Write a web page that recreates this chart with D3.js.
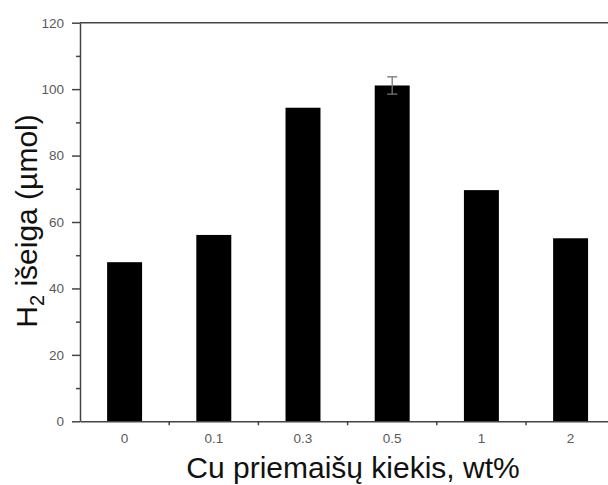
<!DOCTYPE html>
<html>
<head>
<meta charset="utf-8">
<script src="https://cdn.jsdelivr.net/npm/d3@7"></script>
<style>
  body { margin: 0; background: #fff; }
  svg { display: block; }
  text { font-family: "Liberation Sans", Arial, sans-serif; }
</style>
</head>
<body>
<div id="app"></div>
<script>
// data
const categories = ["0", "0.1", "0.3", "0.5", "1", "2"];
const yields = [47.9, 56.1, 94.4, 101.1, 69.6, 55.1];
const errors = [0, 0, 0, 2.6, 0, 0];
const yMajorTicks = [0, 20, 40, 60, 80, 100, 120];
const yMinorTicks = [10, 30, 50, 70, 90, 110];

const W = 608, H = 485;
const plot = {left: 80, right: 615.2, top: 22.7, bottom: 421.3};

const svg = d3.select("#app").append("svg")
  .attr("width", W)
  .attr("height", H);

// scales
const x = d3.scaleBand()
  .domain(categories)
  .range([plot.left, plot.right])
  .paddingInner(0.608)
  .paddingOuter(0.304);

const y = d3.scaleLinear()
  .domain([0, 120])
  .range([plot.bottom, plot.top]);

// bars
svg.selectAll(".bar")
  .data(categories)
  .enter()
  .append("rect")
  .attr("class", "bar")
  .attr("x", d => x(d))
  .attr("y", (d, i) => y(yields[i]))
  .attr("width", x.bandwidth())
  .attr("height", (d, i) => y(0) - y(yields[i]))
  .style("fill", "#000");

// error bars
const errG = svg.append("g")
  .attr("stroke", "#777")
  .attr("stroke-width", 1.3);
categories.forEach((c, i) => {
  if (!errors[i]) return;
  const cx = x(c) + x.bandwidth() / 2;
  errG.append("line").attr("x1", cx).attr("x2", cx)
    .attr("y1", y(yields[i] + errors[i])).attr("y2", y(yields[i] - errors[i]));
  [yields[i] + errors[i], yields[i] - errors[i]].forEach(v => {
    errG.append("line").attr("x1", cx - 5).attr("x2", cx + 5)
      .attr("y1", y(v)).attr("y2", y(v));
  });
});

// y axis
const yAxis = svg.append("g")
  .attr("transform", "translate(" + plot.left + ",0)")
  .call(d3.axisLeft(y).tickValues(yMajorTicks).tickSize(8).tickPadding(8).tickSizeOuter(0));
svg.append("g")
  .attr("transform", "translate(" + plot.left + ",0)")
  .call(d3.axisLeft(y).tickValues(yMinorTicks).tickSize(4).tickFormat("").tickSizeOuter(0))
  .select(".domain").remove();

// x axis
const xAxis = svg.append("g")
  .attr("transform", "translate(0," + plot.bottom + ")")
  .call(d3.axisBottom(x).tickSize(0).tickPadding(12).tickSizeOuter(0));

// minor ticks between categories
const step = x.step();
svg.append("g").selectAll("line")
  .data(categories.slice(1))
  .enter()
  .append("line")
  .attr("x1", d => x(d) - step * x.paddingInner() / 2)
  .attr("x2", d => x(d) - step * x.paddingInner() / 2)
  .attr("y1", plot.bottom)
  .attr("y2", plot.bottom + 4)
  .attr("stroke", "#444")
  .attr("stroke-width", 1.5);

[yAxis, xAxis].forEach(g => {
  g.select(".domain").attr("stroke", "#444").attr("stroke-width", 1.5);
  g.selectAll(".tick text")
    .attr("fill", "#5a5a5a")
    .style("font-size", "13.5px");
});
svg.selectAll(".tick line").attr("stroke", "#444").attr("stroke-width", 1.5);

// top frame line
svg.append("line")
  .attr("x1", plot.left).attr("x2", W)
  .attr("y1", plot.top).attr("y2", plot.top)
  .attr("stroke", "#444")
  .attr("stroke-width", 1.5);

// axis titles
svg.append("text")
  .attr("x", 353)
  .attr("y", 478)
  .attr("text-anchor", "middle")
  .style("font-size", "30px")
  .attr("fill", "#111")
  .text("Cu priemaišų kiekis, wt%");

const yt = svg.append("text")
  .attr("transform", "translate(37,221) rotate(-90)")
  .attr("text-anchor", "middle")
  .style("font-size", "30px")
  .attr("fill", "#111");
yt.append("tspan").text("H");
yt.append("tspan").attr("dy", 7).style("font-size", "20px").text("2");
yt.append("tspan").attr("dy", -7).text(" išeiga (µmol)");
</script>
</body>
</html>
